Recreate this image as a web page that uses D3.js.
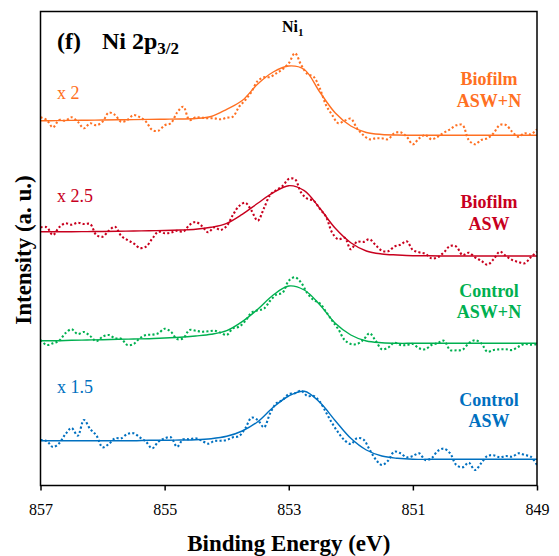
<!DOCTYPE html>
<html><head><meta charset="utf-8">
<script src="https://cdn.jsdelivr.net/npm/d3@7"></script>
<style>body{margin:0;background:#fff}text{font-family:"Liberation Serif","Times New Roman",serif}</style>
</head><body>
<svg id="chart" width="559" height="556"></svg>
<script>
// Binding energy grids (eV)
const energyRaw = [857,856.9,856.8,856.7,856.6,856.5,856.4,856.3,856.2,856.1,
 856,855.9,855.8,855.7,855.6,855.5,855.4,855.3,855.2,855.1,
 855,854.9,854.8,854.7,854.6,854.5,854.4,854.3,854.2,854.1,
 854,853.9,853.8,853.7,853.6,853.5,853.4,853.3,853.2,853.1,
 853,852.9,852.8,852.7,852.6,852.5,852.4,852.3,852.2,852.1,
 852,851.9,851.8,851.7,851.6,851.5,851.4,851.3,851.2,851.1,
 851,850.9,850.8,850.7,850.6,850.5,850.4,850.3,850.2,850.1,
 850,849.9,849.8,849.7,849.6,849.5,849.4,849.3,849.2,849.1,849];
const energyFit = [857,856.75,856.5,856.25,856,855.75,855.5,855.25,855,854.75,854.5,854.25,854,853.75,853.5,853.25,853,852.75,852.5,852.25,852,851.75,851.5,851.25,851,850.75,850.5,850.25,850,849.75,849.5,849.25,849];
const xTicks = [857,855,853,851,849];
const seriesLabels = [["Biofilm","ASW+N"],["Biofilm","ASW"],["Control","ASW+N"],["Control","ASW"]];
const factorLabels = ["x 2","x 2.5","",""];

// Measured (offset, a.u.)
const rawBiofilmASWN = [368.7,366,358.7,366,365.3,368.7,364.3,357.7,362.7,360.7,
 364.3,373.3,371,364.3,366,371,368.7,364.3,356,355.3,
 360.7,362.7,373.3,379.3,366,368.7,368.3,367.7,367.7,366.7,
 368.3,369.3,379.3,386,394.3,405,408.7,409,412.7,416.7,
 422.7,432.7,421,412,409.3,397.7,381,371,362.7,365.3,
 367.3,357.7,351,346.7,347.7,347.7,346.7,352.7,353.7,349.3,
 341.7,347.7,351,346.7,349.3,353.3,356.7,360.7,361,346,
 341.7,346,347.7,352.7,361,361,354.3,349.3,352.7,351.7,356.7];
const rawBiofilmASW = [258.7,258.7,251,258.7,262.7,261.3,263.3,262,262,251,
 249.3,255.3,259.3,250,246,242.7,238,239.3,247.3,254.3,
 252.7,253.3,255.3,254.3,261,264,260,253.7,258.7,256,
 260,271,280,283.3,275.3,265.3,277.7,291,296,300,
 307,306.7,293.3,287.3,285.3,277.3,269.3,253.3,246.7,248.3,
 236.7,244.3,244,246.7,241,235.3,234.7,239.3,241.3,244.7,
 236,233.7,232.3,227.7,228.7,233.7,240,239.3,231,233.3,
 228.7,225.3,221.3,226.7,234.3,230,226,224,222.7,228.7,234.3];
const rawControlASWN = [146,141,142.7,145.3,152.7,156.7,152,154,150,144.7,
 149.3,151,147.7,147.3,141,142,147.7,151,151.3,152.7,
 157.3,154.3,147,147.7,156,155.3,154.3,154.7,155.3,153.3,
 151,157.7,159.3,165,173.3,175.7,177.3,185.3,191.3,193.3,
 205.3,208.7,203.3,192.7,186,182.7,174.3,165.3,156.7,146,
 142,142,146,152.7,145.3,136.7,138.3,143.3,141,141,
 142,137.7,136.7,141,143,145.3,136,135.7,136.3,142.7,
 145.7,142.7,134.3,136,136.7,136.7,136,139.3,142,141.3,142];
const rawControlASW = [46,45,39,42.7,51.7,58,50.3,66,57,50.7,
 38.7,42,47.7,47.7,52,52.7,48.7,44.3,37.7,44.3,
 47.7,48.7,39.3,46.7,46.7,47.7,45.3,42.3,45,45.3,
 46,48.7,50,57.7,68.3,66,58.7,72.7,82.7,86,
 92,92.7,95.3,90,90,84.3,73.7,62.7,53.3,45.7,
 42,47.7,46.7,36.7,26.7,21,25.3,34.3,32.7,28.7,
 30,32.7,26,27.7,35,37.3,32.7,21,18.7,23.3,
 16,22.7,30,30.7,28.7,30,29.3,32.7,31,29.3,21];

// Fitted envelopes (offset, a.u.)
const fitBiofilmASWN = [365.2,365.4,365.6,365.8,366,366.2,366.4,366.6,366.8,367,367.5,
 369.5,376.7,385.5,402,414,420,416.5,394,373,360,353.5,351.5,351,350.8,
 350.7,350.7,350.7,350.7,350.7,350.7,350.7,350.7];
const fitBiofilmASW = [254.3,254.3,254.3,254.4,254.5,254.7,255,255.2,255.5,256,256.7,
 258.7,262.7,271.7,282.7,293.3,300.3,295.3,277.7,257.7,243.3,235,232,231,230.3,230.2,
 230,230,230,230,230,230,230];
const fitControlASWN = [145.3,145.3,145.7,146,146.3,146.7,147,147.3,148,148.7,150,
 151.7,155.3,164.3,176.7,191,200,196,181.3,162.7,151,145,143.3,
 142.7,142.7,142.7,142.7,142.7,142.7,142.7,142.7,142.7,142.7];
const fitControlASW = [45.3,45.3,45.3,45.3,45.3,45.3,45.3,45.7,45.7,46,46.3,47.3,49.7,55,64.3,78.7,90,94.7,83.7,65.3,47.7,36,30,27.7,
 26.7,26.7,26.7,26.7,26.7,26.7,26.7,26.7,26.7];

const colors = ["#FF7022","#C8001E","#00B050","#0070C0"];
const rawSets = [rawBiofilmASWN, rawBiofilmASW, rawControlASWN, rawControlASW];
const fitSets = [fitBiofilmASWN, fitBiofilmASW, fitControlASWN, fitControlASW];

const svg = d3.select("#chart");
const L = 40.5, R = 537, T = 11.5, B = 485.5;
const x = d3.scaleLinear().domain([857, 849]).range([L, R]);
const y = d3.scaleLinear().domain([0, 475]).range([486, 11]);

svg.append("defs").append("clipPath").attr("id","clip")
  .append("rect").attr("x",L).attr("y",T).attr("width",R-L).attr("height",B-T);

const plot = svg.append("g").attr("clip-path","url(#clip)");
const rawLine = d3.line().x(d=>x(d[0])).y(d=>y(d[1])).curve(d3.curveCatmullRom.alpha(0.5));
const fitLine = d3.line().x(d=>x(d[0])).y(d=>y(d[1])).curve(d3.curveCatmullRom.alpha(0.5));

rawSets.forEach((vals,i)=>{
  plot.append("path").datum(energyRaw.map((e,j)=>[e,vals[j]]))
    .attr("d", rawLine).attr("fill","none").attr("stroke",colors[i])
    .attr("stroke-width",2.1).attr("stroke-dasharray","2.1,2.2");
});
fitSets.forEach((vals,i)=>{
  plot.append("path").datum(energyFit.map((e,j)=>[e,vals[j]]))
    .attr("d", fitLine).attr("fill","none").attr("stroke",colors[i])
    .attr("stroke-width",1.4);
});

// frame
svg.append("rect").attr("x",L).attr("y",T).attr("width",R-L).attr("height",B-T)
  .attr("fill","none").attr("stroke","#000").attr("stroke-width",1.5);

// x axis
const xAxis = svg.append("g").attr("transform",`translate(0,${B})`)
  .call(d3.axisBottom(x).tickValues(xTicks).tickFormat(d3.format("d")).tickSize(5).tickSizeOuter(0));
xAxis.select(".domain").remove();
xAxis.selectAll(".tick line").attr("stroke","#000").attr("stroke-width",1.5);
xAxis.selectAll(".tick text").attr("y",18).attr("dy","0.71em")
  .style("font-family",'"Liberation Serif","Times New Roman",serif').style("font-size","16px").attr("fill","#000");

// axis titles
svg.append("text").attr("x",(L+R)/2).attr("y",551).attr("text-anchor","middle")
  .style("font-size","23px").style("font-weight","bold").text("Binding Energy (eV)");
svg.append("text").attr("transform","translate(31,250) rotate(-90)").attr("text-anchor","middle")
  .style("font-size","23px").style("font-weight","bold").text("Intensity (a. u.)");

// panel title
svg.append("text").attr("x",57).attr("y",49).style("font-size","24px").style("font-weight","bold").text("(f)");
const t = svg.append("text").attr("x",102).attr("y",49).style("font-size","24px").style("font-weight","bold");
t.append("tspan").text("Ni 2p");
t.append("tspan").attr("dy",5).style("font-size","17px").text("3/2");

// peak label
const pk = svg.append("text").attr("x",x(853)+4).attr("y",32).attr("text-anchor","middle")
  .style("font-size","16px").style("font-weight","bold");
pk.append("tspan").text("Ni");
pk.append("tspan").attr("dy",4).style("font-size","11px").text("1");

// series labels
const labelY = [[85,107],[208,230],[296.5,318],[406,427]];
seriesLabels.forEach((lab,i)=>{
  lab.forEach((s,j)=>{
    svg.append("text").attr("x",489).attr("y",labelY[i][j]).attr("text-anchor","middle")
      .style("font-size","18px").style("font-weight","bold").attr("fill",colors[i]).text(s);
  });
});

// multiplication factors
const factorText = ["x 2","x 2.5","","x 1.5"];
const factorY = [98.5,202.3,0,392.5];
factorText.forEach((s,i)=>{
  if(!s) return;
  svg.append("text").attr("x",57).attr("y",factorY[i]).style("font-size","18px")
    .attr("fill",colors[i]).text(s);
});
</script>
</body></html>
